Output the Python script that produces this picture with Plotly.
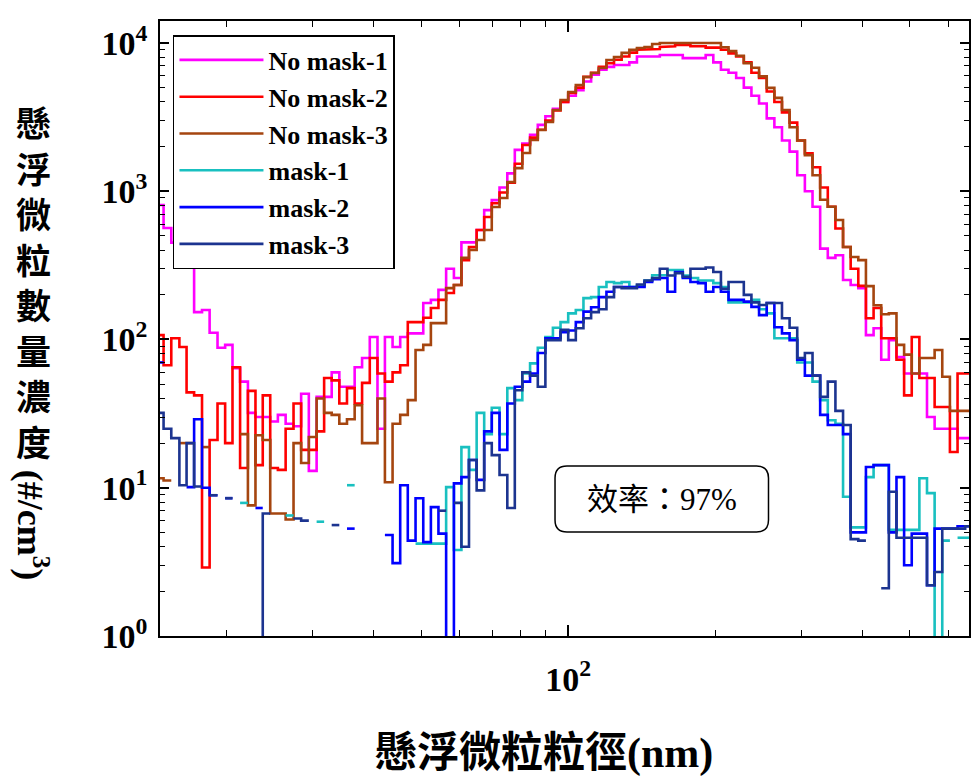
import math
import plotly.graph_objects as go

# ---------------- data ----------------
diameter_nm = [
    14.6, 15.1, 15.7, 16.3, 16.8, 17.5, 18.1, 18.8, 19.5, 20.2,
    20.9, 21.7, 22.5, 23.3, 24.1, 25.0, 25.9, 26.9, 27.9, 28.9,
    30.0, 31.1, 32.2, 33.4, 34.6, 35.9, 37.2, 38.5, 40.0, 41.4,
    42.9, 44.5, 46.1, 47.8, 49.6, 51.4, 53.3, 55.2, 57.3, 59.4,
    61.5, 63.8, 66.1, 68.5, 71.0, 73.7, 76.4, 79.1, 82.0, 85.1,
    88.2, 91.4, 94.7, 98.2, 101.8, 105.5, 109.4, 113.4, 117.6, 121.9,
    126.3, 131.0, 135.8, 140.7, 145.9, 151.2, 156.8, 162.5, 168.5, 174.7,
    181.1, 187.7, 194.6, 201.7, 209.1, 216.7, 224.7, 232.9, 241.4, 250.3,
    259.5, 269.0, 278.8, 289.0, 299.6, 310.6, 322.0, 333.8, 346.0, 358.7,
    371.8, 385.4, 399.5, 414.2, 429.4, 445.1, 461.4, 478.3, 495.8, 514.0,
    532.8, 552.3, 572.5, 593.5, 615.3, 637.8, 661.2,
]

no_mask_1 = [
    808, 565, 450, 400, 328, 153, 158, 111, 88, 92,
    64, 52, 32, 30, 30, 28, 31, 27, 26, 43,
    13, 41, 41, 60, 48, 48, 65, 75, 104, 25,
    104, 89, 104, 110, 110, 176, 185, 216, 300, 260,
    452, 452, 548, 745, 870, 1060, 1320, 1900, 2100, 2400,
    2800, 3200, 3600, 4000, 4400, 4800, 5500, 6100, 6600, 6900,
    7100, 7100, 7400, 8100, 8100, 8100, 8300, 8300, 8300, 7900,
    7900, 7900, 8300, 7400, 6600, 6300, 5800, 5000, 4400, 3900,
    3100, 2700, 2200, 1850, 1280, 1000, 785, 410, 355, 370,
    252, 233, 222, 107, 119, 73, 99, 76, 59, 59,
    59, 30, 25, 25, 25, 21.6, 21.6,
]

no_mask_2 = [
    107, 67, 102, 89, 44, 42, 2.9, 21, 37, 20,
    65, 13.6, 45, 14.2, 42, 13.6, 13.2, 25, 37, 18,
    18, 24, 55, 53, 37, 47, 37, 51, 75, 59,
    52, 60, 67, 131, 131, 140, 163, 185, 206, 233,
    343, 420, 548, 670, 830, 980, 1140, 1530, 2050, 2300,
    2600, 3000, 3500, 4000, 4600, 5000, 5900, 6300, 6900, 7300,
    7700, 8100, 8600, 9000, 9100, 9100, 9400, 9500, 9700, 9700,
    9500, 9500, 9300, 9300, 9000, 8500, 8100, 7400, 6300, 5800,
    4700, 4000, 3400, 2900, 2200, 1800, 1450, 1060, 785, 560,
    420, 300, 230, 139, 163, 102, 102, 73, 42, 104,
    55, 55, 35, 35, 17.4, 59, 59,
]

no_mask_3 = [
    11.6, 11.2, None, 20, 20, None, 18.8, None, None, None,
    None, 23, 7.6, 22.6, 21, 6.7, 6.7, 6.1, 20, 14.7,
    22, 40, 32, 31, 27, 29, 36, 20, 20, 40,
    10.9, 27, 31, 39, 85, 92, 129, 129, 222, 233,
    355, 402, 469, 548, 782, 899, 1153, 1432, 1811, 2217,
    2590, 2932, 3532, 4127, 4670, 5207, 5898, 6276, 6780, 7680,
    8047, 8566, 8975, 9250, 9400, 9845, 10000, 10000, 10000, 10000,
    10000, 10000, 10000, 10000, 9350, 8800, 8200, 7300, 6800, 5950,
    4980, 4260, 3530, 2700, 2200, 1750, 1280, 875, 785, 640,
    420, 360, 343, 229, 170, 148, 150, 92, 79, 59,
    75, 75, 85, 56, 33, 33, 33,
]

mask_1 = [
    None, None, None, None, None, None, None, None, None, None,
    None, 7.9, None, None, None, None, None, 6.5, None, None,
    None, 5.9, None, None, None, 10.4, None, None, None, None,
    None, None, None, None, 4.2, 4.2, 4.2, 4.2, 10.1, 3.8,
    18.8, 13.2, 32, 23, 34.6, 23, 47, 39, 59, 69,
    88, 104, 120, 131, 150, 158, 190, 193, 226, 244,
    240, 244, 226, 230, 250, 271, 271, 294, 294, 270,
    260, 250, 250, 240, 226, 178, 178, 178, 185, 160,
    150, 102, 102, 102, 70, 70, 52, 39, 28.5, 27,
    8.7, 5.4, 5.4, 11.8, 14.2, 14.2, 5.2, 5.2, 5.2, 5.2,
    11.6, 9.2, 0.1, 4.4, None, 4.6, 4.6,
]

mask_2 = [
    70, None, None, None, 10.1, 29, 10, 8.9, None, 8.5,
    None, None, None, 7.3, None, None, None, None, None, None,
    None, None, None, None, None, 5.3, None, None, None, None,
    4.8, 3.1, 10.4, 4.4, 8.5, 4.3, 7.4, 4.9, 0.1, 10.7,
    11.8, 15.4, 11.3, 24, 32, 18, 37, 48, 52, 59,
    81, 102, 102, 112, 115, 131, 154, 165, 193, 210,
    226, 226, 226, 226, 244, 255, 260, 210, 285, 260,
    244, 240, 210, 226, 210, 185, 185, 180, 166, 146,
    176, 121, 110, 99, 73, 57, 57, 31, 26.5, 26.5,
    23, 5.0, 5.0, 13.8, 14.2, 14.2, 5.0, 11.8, 3.0, 4.9,
    4.9, 2.2, 5.3, 5.3, 5.3, 5.5, 5.5,
]

mask_3 = [
    32, 25, 21.6, 10.4, 20, 10.2, None, 8.9, None, 8.5,
    None, None, None, 0.1, 6.7, None, None, None, 6.2, 6.0,
    None, None, None, 5.6, None, None, None, None, None, None,
    None, None, None, None, None, None, None, 7.0, None, 7.9,
    4.0, 15.4, 9.6, 20, 16.6, 12.2, 7.3, 45.5, 60, 57,
    48, 99, 99, 116, 99, 119, 139, 153, 160, 193,
    226, 222, 222, 235, 250, 260, 300, 270, 280, 265,
    300, 300, 306, 285, 220, 244, 244, 200, 178, 171,
    176, 176, 139, 120, 75, 81, 57, 41, 52, 33,
    26.5, 4.5, 4.4, None, None, 2.1, 9.4, 4.6, 4.6, 4.6,
    4.6, 2.2, 2.7, 5.3, 5.3, 5.3, 5.5,
]

series_names = ["No mask-1", "No mask-2", "No mask-3", "mask-1", "mask-2", "mask-3"]
series_values = [no_mask_1, no_mask_2, no_mask_3, mask_1, mask_2, mask_3]
series_colors = ["#FF00FF", "#FF0000", "#A5450F", "#19C0C0", "#0000FF", "#1C3490"]

x_major = [100]
x_major_text = ["10<sup>2</sup>"]
x_minor = [20, 30, 40, 50, 60, 70, 80, 90, 200, 300, 400, 500, 600]
y_major = [1, 10, 100, 1000, 10000]
y_major_text = ["10<sup>0</sup>", "10<sup>1</sup>", "10<sup>2</sup>", "10<sup>3</sup>", "10<sup>4</sup>"]
y_minor = [m * 10 ** e for e in range(0, 5) for m in range(2, 10)]

x_title = "懸浮微粒粒徑(nm)"
y_title_chars = "懸浮微粒數量濃度"
y_title_unit = "(#/cm<sup>3</sup>)"
note_text = "效率：97%"


def step_xy(d, v):
    """Build a stair-step outline whose steps span each size bin."""
    xs, ys = [], []
    n = len(d)
    for i in range(n):
        if v[i] is None:
            xs.append(None)
            ys.append(None)
            continue
        lo = math.sqrt(d[i - 1] * d[i]) if i > 0 else d[0] * math.sqrt(d[0] / d[1])
        hi = math.sqrt(d[i] * d[i + 1]) if i < n - 1 else d[-1] * math.sqrt(d[-1] / d[-2])
        xs += [lo, hi]
        ys += [v[i], v[i]]
    return xs, ys


fig = go.Figure()
for name, vals, col in zip(series_names, series_values, series_colors):
    sx, sy = step_xy(diameter_nm, vals)
    fig.add_trace(go.Scatter(x=sx, y=sy, mode="lines", name=name,
                             line=dict(color=col, width=2.6),
                             connectgaps=False))

# ---------------- layout ----------------
W, H = 971, 781
ML, MR, MT, MB = 160, 0, 21, 145
PW = W - ML - MR
PH = H - MT - MB


def px(xp):
    return (xp - ML) / PW


def py(yp):
    return (H - MB - yp) / PH


tick_font = dict(family="Liberation Serif", size=34, color="black", weight="bold")

fig.update_layout(
    width=W, height=H,
    margin=dict(l=ML, r=MR, t=MT, b=MB),
    plot_bgcolor="white", paper_bgcolor="white",
    showlegend=True,
    legend=dict(x=px(173), y=py(35), xanchor="left", yanchor="top",
                bgcolor="white", bordercolor="black", borderwidth=1.5,
                font=dict(family="Liberation Serif", size=26, color="black", weight="bold"),
                itemwidth=84, tracegroupgap=0),
)

fig.update_xaxes(
    type="log", range=[math.log10(diameter_nm[0]), math.log10(diameter_nm[-1])],
    tickmode="array", tickvals=x_major, ticktext=x_major_text,
    ticks="inside", ticklen=11, tickwidth=1.5, tickcolor="black",
    showline=True, linecolor="black", linewidth=1.5, mirror="ticks",
    showgrid=False, zeroline=False, tickfont=tick_font, ticklabelstandoff=12,
    minor=dict(tickmode="array", tickvals=x_minor, ticks="inside", ticklen=6,
               tickwidth=1.3, tickcolor="black", showgrid=False),
)
fig.update_yaxes(
    type="log", range=[0, 4.148],
    tickmode="array", tickvals=y_major, ticktext=y_major_text,
    ticks="inside", ticklen=9, tickwidth=1.5, tickcolor="black",
    showline=True, linecolor="black", linewidth=1.5, mirror="ticks",
    showgrid=False, zeroline=False, tickfont=tick_font, ticklabelstandoff=4,
    minor=dict(tickmode="array", tickvals=y_minor, ticks="inside", ticklen=5,
               tickwidth=1.3, tickcolor="black", showgrid=False),
)

label_font = dict(family="Liberation Serif, Noto Sans CJK TC", size=35, color="black", weight="bold")

fig.add_annotation(text="<br>".join(list(y_title_chars)), xref="paper", yref="paper",
                   x=px(33), y=py(285), xanchor="center", yanchor="middle",
                   showarrow=False, font=label_font)
fig.add_annotation(text=y_title_unit, xref="paper", yref="paper",
                   x=px(33), y=py(525), xanchor="center", yanchor="middle",
                   textangle=90, showarrow=False,
                   font=dict(family="Liberation Serif, Noto Sans CJK TC", size=36, color="black", weight="bold"))
fig.add_annotation(text=x_title, xref="paper", yref="paper",
                   x=px(545), y=py(753), xanchor="center", yanchor="middle",
                   showarrow=False,
                   font=dict(family="Liberation Serif, Noto Sans CJK TC", size=42, color="black", weight="bold"))

# rounded box with the efficiency note
bx0, bx1, by0, by1, r = 556, 770, 466, 532, 12
path = (f"M {px(bx0 + r)},{py(by0)} L {px(bx1 - r)},{py(by0)} "
        f"Q {px(bx1)},{py(by0)} {px(bx1)},{py(by0 + r)} "
        f"L {px(bx1)},{py(by1 - r)} Q {px(bx1)},{py(by1)} {px(bx1 - r)},{py(by1)} "
        f"L {px(bx0 + r)},{py(by1)} Q {px(bx0)},{py(by1)} {px(bx0)},{py(by1 - r)} "
        f"L {px(bx0)},{py(by0 + r)} Q {px(bx0)},{py(by0)} {px(bx0 + r)},{py(by0)} Z")
fig.add_shape(type="path", path=path, xref="paper", yref="paper",
              line=dict(color="black", width=1.5), fillcolor="white", layer="above")
fig.add_annotation(text=note_text, xref="paper", yref="paper",
                   x=px((bx0 + bx1) / 2), y=py((by0 + by1) / 2), xanchor="center", yanchor="middle",
                   showarrow=False,
                   font=dict(family="Liberation Serif, Noto Sans CJK TC", size=31, color="black"))

fig.write_html("out.html")
